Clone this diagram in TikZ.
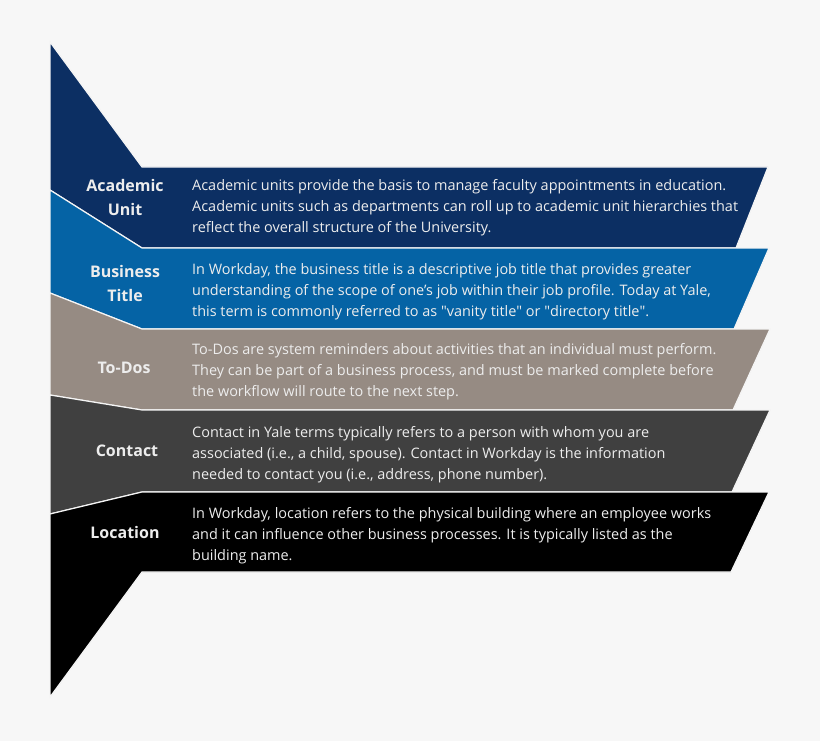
\documentclass[tikz,border=0pt]{standalone}
\usepackage{fontspec}
\setmainfont{Open Sans}
\usepackage{tikz}
\usetikzlibrary{calc}

\definecolor{bgcol}{HTML}{F7F7F7}
\definecolor{acadcol}{HTML}{0C2F63}
\definecolor{busicol}{HTML}{0563A5}
\definecolor{todocol}{HTML}{968B83}
\definecolor{contcol}{HTML}{404040}
\definecolor{locacol}{HTML}{000000}

\begin{document}
\begin{tikzpicture}[x=1pt,y=-1pt]
        \tikzstyle{every node}=[text=white!93!black,inner sep=0pt]
        \tikzstyle{band}=[draw=white!96!black,line width=1.2pt,line join=miter]
        \tikzstyle{head}=[font=\fontsize{16}{24}\selectfont\bfseries,align=center]
        \tikzstyle{desc}=[font=\fontsize{14.45}{21}\selectfont,align=left,anchor=west]

        %%% Background
        \fill[bgcol] (0,0) rectangle (820,741);
        \useasboundingbox (0,0) rectangle (820,741);

        %%% Bands
        \filldraw[band,fill=acadcol] (50,42) -- (142,167) -- (768,167) -- (736,248) -- (142,248) -- (50,190) -- cycle;
        \filldraw[band,fill=busicol] (50,190) -- (142,248) -- (769,248) -- (734,329) -- (142,329) -- (50,293) -- cycle;
        \filldraw[band,fill=todocol] (50,293) -- (142,329) -- (770,329) -- (733,410) -- (142,410) -- (50,395) -- cycle;
        \filldraw[band,fill=contcol] (50,395) -- (142,410) -- (770,410) -- (732,492) -- (142,492) -- (50,514) -- cycle;
        \filldraw[band,fill=locacol] (50,514) -- (142,492) -- (769,492) -- (731,572) -- (142,572) -- (50,697) -- cycle;

        %%% Titles
        \node[head] (acad) at (125,197) {Academic\\Unit};
        \node[head] (busi) at (125,283) {Business\\Title};
        \node[head] (todo) at (124,368) {To-Dos};
        \node[head] (cont) at (127,451) {Contact};
        \node[head] (loca) at (125,532) {Location};

        %%% Descriptions
        \node[desc] (acadtxt) at (192,208) {Academic units provide the basis to manage faculty appointments in education.\\Academic units such as departments can roll up to academic unit hierarchies that\\reflect the overall structure of the University.};
        \node[desc] (busitxt) at (192,292) {In Workday, the business title is a descriptive job title that provides greater\\understanding of the scope of one’s job within their job profile. Today at Yale,\\this term is commonly referred to as \textquotedbl vanity title\textquotedbl{} or \textquotedbl directory title\textquotedbl.};
        \node[desc] (todotxt) at (192,372) {To-Dos are system reminders about activities that an individual must perform.\\They can be part of a business process, and must be marked complete before\\the workflow will route to the next step.};
        \node[desc] (conttxt) at (192,455) {Contact in Yale terms typically refers to a person with whom you are\\associated (i.e., a child, spouse). Contact in Workday is the information\\needed to contact you (i.e., address, phone number).};
        \node[desc] (locatxt) at (192,536) {In Workday, location refers to the physical building where an employee works\\and it can influence other business processes. It is typically listed as the\\building name.};
\end{tikzpicture}
\end{document}
